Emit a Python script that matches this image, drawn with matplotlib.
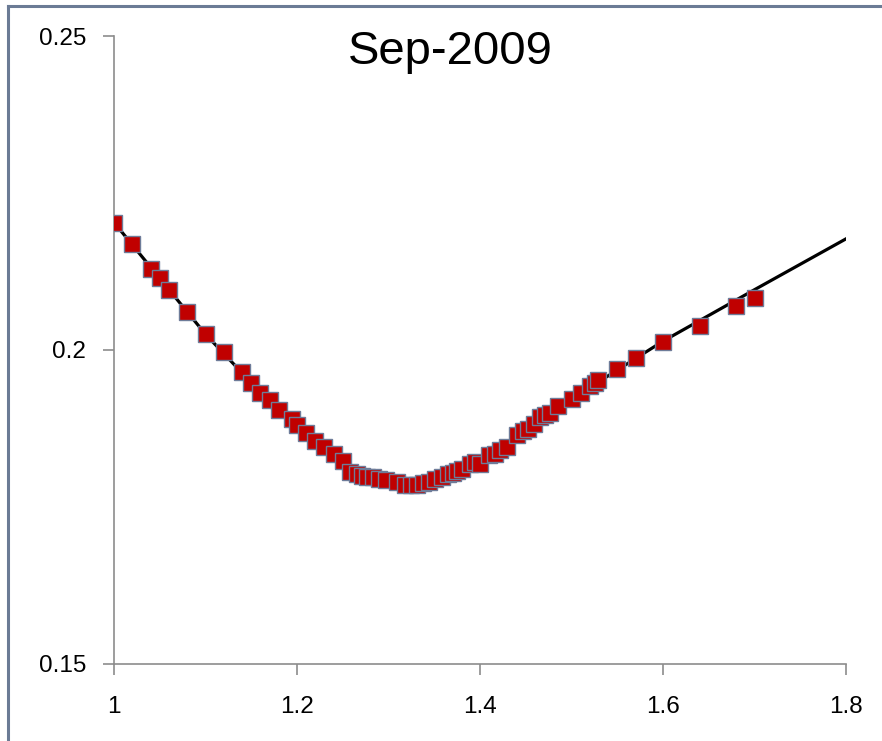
import matplotlib.pyplot as plt
from matplotlib.lines import Line2D

plt.rcParams['font.family'] = ['Liberation Sans', 'DejaVu Sans']

x_obs = [1.00, 1.02, 1.04, 1.05, 1.06, 1.08, 1.10, 1.12, 1.14, 1.15, 1.16, 1.17,
         1.18, 1.194, 1.20, 1.21, 1.22, 1.23, 1.24, 1.25, 1.258, 1.265, 1.271,
         1.277, 1.283, 1.29, 1.297, 1.309, 1.318, 1.325, 1.331, 1.338, 1.344,
         1.351, 1.358, 1.365, 1.371, 1.375, 1.38, 1.389, 1.395, 1.40, 1.41,
         1.416, 1.422, 1.429, 1.44, 1.447, 1.452, 1.459, 1.466, 1.471, 1.477,
         1.485, 1.50, 1.51, 1.52, 1.526, 1.529, 1.55, 1.57, 1.60, 1.64, 1.68, 1.70]
y_obs = [0.2202, 0.2168, 0.2129, 0.2114, 0.2095, 0.2061, 0.2025, 0.1996, 0.1965,
         0.1948, 0.1932, 0.1920, 0.1905, 0.1890, 0.1880, 0.1867, 0.1855, 0.1845,
         0.1834, 0.1823, 0.1806, 0.1803, 0.1800, 0.1798, 0.1798, 0.1794, 0.1793,
         0.1790, 0.1785, 0.1785, 0.1785, 0.1788, 0.1790, 0.1795, 0.1798, 0.1802,
         0.1804, 0.1807, 0.1810, 0.1818, 0.1821, 0.1819, 0.1832, 0.1835, 0.1841,
         0.1846, 0.1864, 0.1871, 0.1874, 0.1882, 0.1894, 0.1897, 0.1900, 0.1910,
         0.1922, 0.1932, 0.1942, 0.1947, 0.1952, 0.1970, 0.1988, 0.2012, 0.2038,
         0.2070, 0.2083]

# fitted curve
x_fit = [1.00, 1.05, 1.10, 1.15, 1.20, 1.25, 1.28, 1.30, 1.32, 1.34, 1.36, 1.38,
         1.40, 1.45, 1.50, 1.60, 1.70, 1.80]
y_fit = [0.2203, 0.2114, 0.2025, 0.1948, 0.1880, 0.1822, 0.1801, 0.1792, 0.1787,
         0.1787, 0.1795, 0.1807, 0.1821, 0.1870, 0.1922, 0.2014, 0.2096, 0.2177]

x_ticks = [1, 1.2, 1.4, 1.6, 1.8]
x_labels = ['1', '1.2', '1.4', '1.6', '1.8']
y_ticks = [0.15, 0.2, 0.25]
y_labels = ['0.15', '0.2', '0.25']

fig = plt.figure(figsize=(8.82, 7.41), dpi=100)
ax = fig.add_axes([0.1293, 0.1040, 0.8299, 0.8474])

ax.plot(x_fit, y_fit, color='black', linewidth=2.3, zorder=2)
ax.plot(x_obs, y_obs, linestyle='none', marker='s', markersize=12,
        markerfacecolor='#C00000', markeredgecolor='#6E7C99',
        markeredgewidth=1.0, zorder=3)

ax.set_xlim(1, 1.8)
ax.set_ylim(0.15, 0.25)
ax.set_xticks(x_ticks)
ax.set_xticklabels(x_labels)
ax.set_yticks(y_ticks)
ax.set_yticklabels(y_labels)

for s in ['top', 'right']:
    ax.spines[s].set_visible(False)
for s in ['left', 'bottom']:
    ax.spines[s].set_color('#8C8C8C')
    ax.spines[s].set_linewidth(1.2)

ax.tick_params(axis='both', direction='out', length=8, width=1.2,
               color='#8C8C8C', labelsize=17.5, labelcolor='black')
ax.tick_params(axis='x', pad=15)
ax.tick_params(axis='y', pad=12)

ax.text(0.46, 0.975, 'Sep-2009', transform=ax.transAxes, fontsize=34,
        ha='center', va='center')

# outer frame (top and left edges visible)
fig.add_artist(Line2D([8 / 882, 8 / 882], [0, 1 - 6 / 741], color='#6B7B95',
                      linewidth=2.2, transform=fig.transFigure))
fig.add_artist(Line2D([8 / 882, 1], [1 - 6 / 741, 1 - 6 / 741], color='#6B7B95',
                      linewidth=2.2, transform=fig.transFigure))

fig.savefig('out.png', dpi=100)
